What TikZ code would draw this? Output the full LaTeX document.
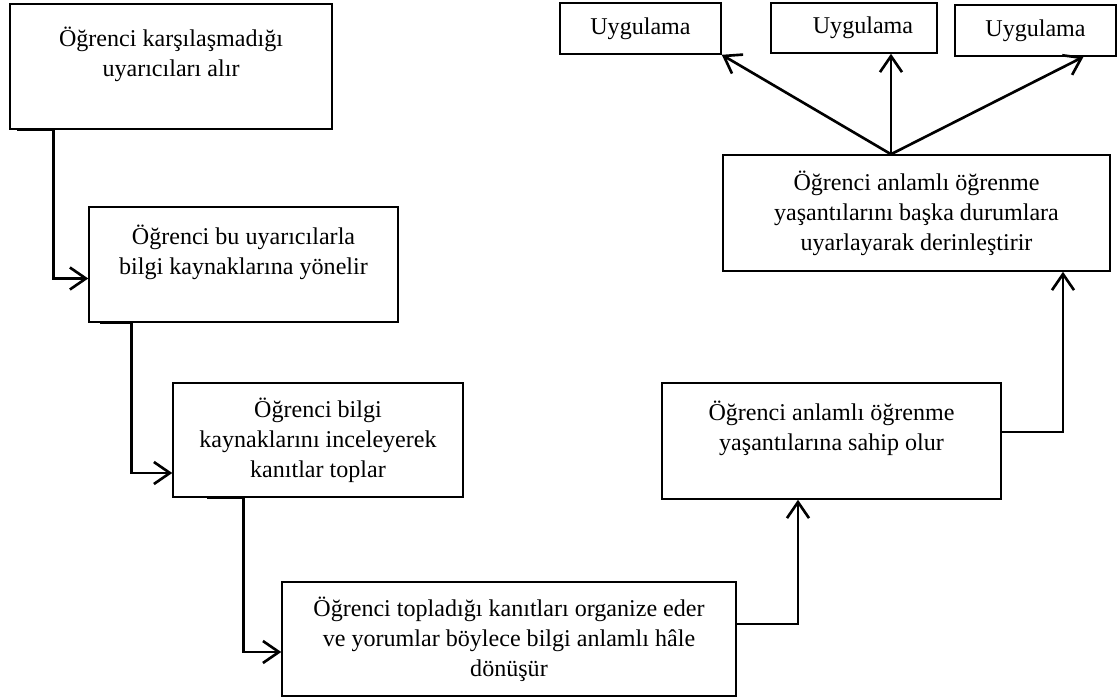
\documentclass[tikz,border=0pt]{standalone}
\usepackage{fontspec}
\setmainfont{Liberation Serif}
\usetikzlibrary{calc,arrows.meta}
\tikzset{
  fl chart/.style={
    x=0.02cm,
    y=-0.02cm,
    line join=miter
  },
  fl box/.style={
    draw,
    line width=0.9pt,
    align=center,
    inner sep=2pt,
    font=\fontsize{13.7}{17}\selectfont
  },
  fl arrow/.style={
    line width=1.5pt,
    -{Straight Barb[length=3.2mm,width=4.4mm]}
  }
}

\begin{document}
\begin{tikzpicture}[fl chart]
  \useasboundingbox (0,0) rectangle (1117,700);

  \node[fl box,minimum width=6.44cm,minimum height=2.5cm] (b1) at (171,66.5)
    {Öğrenci karşılaşmadığı\\uyarıcıları alır\\\mbox{}};
  \node[fl box,minimum width=6.18cm,minimum height=2.3cm] (b2) at (243.5,264.5)
    {Öğrenci bu uyarıcılarla\\bilgi kaynaklarına yönelir\\\mbox{}};
  \node[fl box,minimum width=5.8cm,minimum height=2.28cm] (b3) at (318,440)
    {Öğrenci bilgi\\kaynaklarını inceleyerek\\kanıtlar toplar};
  \node[fl box,minimum width=9.08cm,minimum height=2.28cm] (b4) at (509,639)
    {Öğrenci topladığı kanıtları organize eder\\ve yorumlar böylece bilgi anlamlı hâle\\dönüşür};
  \node[fl box,minimum width=6.78cm,minimum height=2.32cm] (b5) at (831.5,441)
    {Öğrenci anlamlı öğrenme\\yaşantılarına sahip olur\\\mbox{}};
  \node[fl box,minimum width=7.74cm,minimum height=2.32cm] (b6) at (916.5,213)
    {Öğrenci anlamlı öğrenme\\yaşantılarını başka durumlara\\uyarlayarak derinleştirir};

  \node[fl box,minimum width=3.22cm,minimum height=1.02cm] (u1) at (640.5,28.5) {Uygulama};
  \node[fl box,minimum width=3.32cm,minimum height=1cm] (u2) at (854,28) {\hspace*{0.36cm}Uygulama};
  \node[fl box,minimum width=3.22cm,minimum height=1.02cm] (u3) at (1035.5,30.5) {Uygulama};

  % left column, going down
  \draw[fl arrow] ($(b1.south west)+(8,0)$) -- ++(36,0) |- ($(b2.west)+(0,14)$);
  \draw[fl arrow] ($(b2.south west)+(12,0)$) -- ++(31,0) |- ($(b3.west)+(0,33)$);
  \draw[fl arrow] ($(b3.south west)+(35,0)$) -- ++(36,0) |- ($(b4.west)+(0,13)$);

  % right column, going up
  \draw[fl arrow] ($(b4.east)+(0,-15)$) -| ($(b5.south)+(-33.5,0)$);
  \draw[fl arrow] ($(b5.east)+(0,-9)$) -| ($(b6.south)+(146.5,0)$);

  \coordinate (fork) at ($(b6.north)+(-25.5,0)$);
  \draw[fl arrow] (fork) -- (u1.south east);
  \draw[fl arrow] (fork) -- (fork |- u2.south);
  \draw[fl arrow] (fork) -- ($(u3.south)+(48,0)$);

\end{tikzpicture}
\end{document}
